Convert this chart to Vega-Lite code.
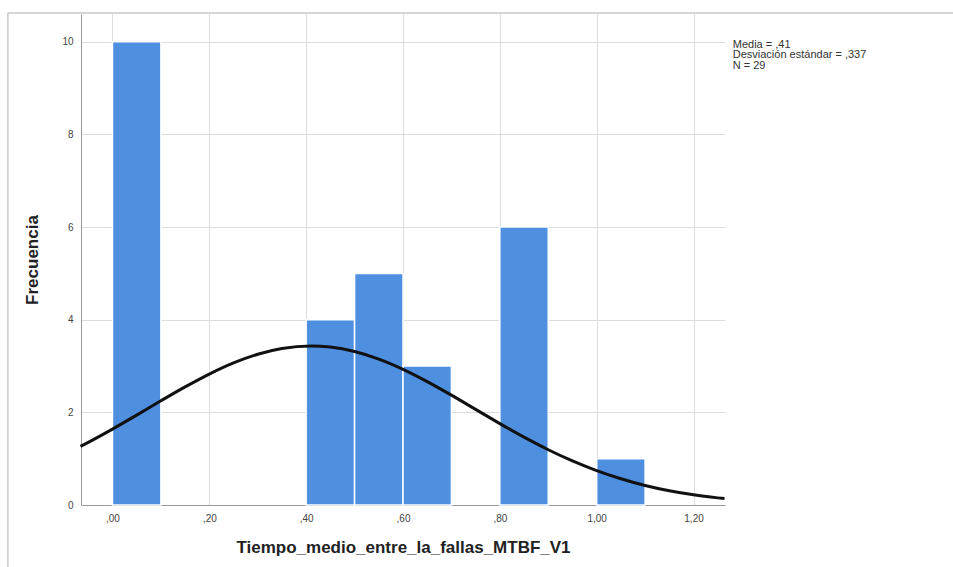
{
  "$schema": "https://vega.github.io/schema/vega-lite/v6.json",
  "width": 644,
  "height": 491,
  "autosize": "none",
  "padding": {"left": 81, "top": 14, "right": 228, "bottom": 62},
  "background": "white",
  "config": {
    "view": {"stroke": null},
    "font": "Liberation Sans",
    "axis": {"gridColor": "#dcdcdc", "gridWidth": 1, "domainColor": "#9a9a9a", "ticks": false, "labelColor": "#444444", "labelFontSize": 10, "titleColor": "#222222", "titleFontWeight": "bold", "titleFontSize": 17}
  },
  "datasets": {
    "bars": [
      {"bin_start": 0.0, "bin_end": 0.1, "count": 10},
      {"bin_start": 0.4, "bin_end": 0.5, "count": 4},
      {"bin_start": 0.5, "bin_end": 0.6, "count": 5},
      {"bin_start": 0.6, "bin_end": 0.7, "count": 3},
      {"bin_start": 0.8, "bin_end": 0.9, "count": 6},
      {"bin_start": 1.0, "bin_end": 1.1, "count": 1}
    ],
    "curve": [
      {"x": -0.066, "y": 1.266}, {"x": -0.05, "y": 1.352}, {"x": 0.0, "y": 1.638}, {"x": 0.05, "y": 1.94},
      {"x": 0.1, "y": 2.249}, {"x": 0.15, "y": 2.549}, {"x": 0.2, "y": 2.827}, {"x": 0.25, "y": 3.067},
      {"x": 0.3, "y": 3.255}, {"x": 0.35, "y": 3.379}, {"x": 0.41, "y": 3.433}, {"x": 0.45, "y": 3.409},
      {"x": 0.5, "y": 3.313}, {"x": 0.55, "y": 3.149}, {"x": 0.6, "y": 2.929}, {"x": 0.65, "y": 2.664},
      {"x": 0.7, "y": 2.371}, {"x": 0.75, "y": 2.064}, {"x": 0.8, "y": 1.757}, {"x": 0.85, "y": 1.464},
      {"x": 0.9, "y": 1.193}, {"x": 0.95, "y": 0.951}, {"x": 1.0, "y": 0.742}, {"x": 1.05, "y": 0.566},
      {"x": 1.1, "y": 0.422}, {"x": 1.15, "y": 0.308}, {"x": 1.2, "y": 0.22}, {"x": 1.25, "y": 0.154},
      {"x": 1.264, "y": 0.138}
    ],
    "stats": [
      {"x": 1.281, "y": 9.94, "label": "Media = ,41"},
      {"x": 1.281, "y": 9.71, "label": "Desviación estándar = ,337"},
      {"x": 1.281, "y": 9.48, "label": "N = 29"}
    ],
    "frameH": [{"x": -0.216, "x2": 1.75, "y": 10.62}],
    "frameV": [{"x": -0.216, "y": 10.62, "y2": -1.4}]
  },
  "layer": [
    {
      "data": {"name": "frameH"},
      "mark": {"type": "rule", "color": "#c8c8c8", "strokeWidth": 1.5, "clip": false},
      "encoding": {
        "x": {"field": "x", "type": "quantitative", "scale": {"domain": [-0.065, 1.265], "nice": false, "zero": false}},
        "x2": {"field": "x2"},
        "y": {"field": "y", "type": "quantitative", "scale": {"domain": [0, 10.6], "nice": false}}
      }
    },
    {
      "data": {"name": "frameV"},
      "mark": {"type": "rule", "color": "#c8c8c8", "strokeWidth": 1.5, "clip": false},
      "encoding": {
        "x": {"field": "x", "type": "quantitative"},
        "y": {"field": "y", "type": "quantitative"},
        "y2": {"field": "y2"}
      }
    },
    {
      "data": {"name": "bars"},
      "mark": {"type": "rect", "color": "#4f8fe0", "stroke": "white", "strokeWidth": 1.5},
      "encoding": {
        "x": {
          "field": "bin_start", "type": "quantitative",
          "scale": {"domain": [-0.065, 1.265], "nice": false, "zero": false},
          "axis": {"values": [0, 0.2, 0.4, 0.6, 0.8, 1.0, 1.2], "labelExpr": "datum.value < 1 ? ',' + substring(format(datum.value, '.2f'), 2) : replace(format(datum.value, '.2f'), '.', ',')", "labelPadding": 8, "title": "Tiempo_medio_entre_la_fallas_MTBF_V1", "titlePadding": 16, "grid": true, "domain": true}
        },
        "x2": {"field": "bin_end"},
        "y": {
          "field": "count", "type": "quantitative",
          "scale": {"domain": [0, 10.6], "nice": false},
          "axis": {"values": [0, 2, 4, 6, 8, 10], "labelPadding": 8, "title": "Frecuencia", "titlePadding": 20, "grid": true, "domain": true}
        },
        "y2": {"datum": 0}
      }
    },
    {
      "data": {"name": "curve"},
      "mark": {"type": "line", "color": "#111111", "strokeWidth": 3, "interpolate": "monotone"},
      "encoding": {
        "x": {"field": "x", "type": "quantitative"},
        "y": {"field": "y", "type": "quantitative"}
      }
    },
    {
      "data": {"name": "stats"},
      "mark": {"type": "text", "align": "left", "baseline": "middle", "fontSize": 11, "color": "#333333", "clip": false},
      "encoding": {
        "x": {"field": "x", "type": "quantitative"},
        "y": {"field": "y", "type": "quantitative"},
        "text": {"field": "label"}
      }
    }
  ]
}
